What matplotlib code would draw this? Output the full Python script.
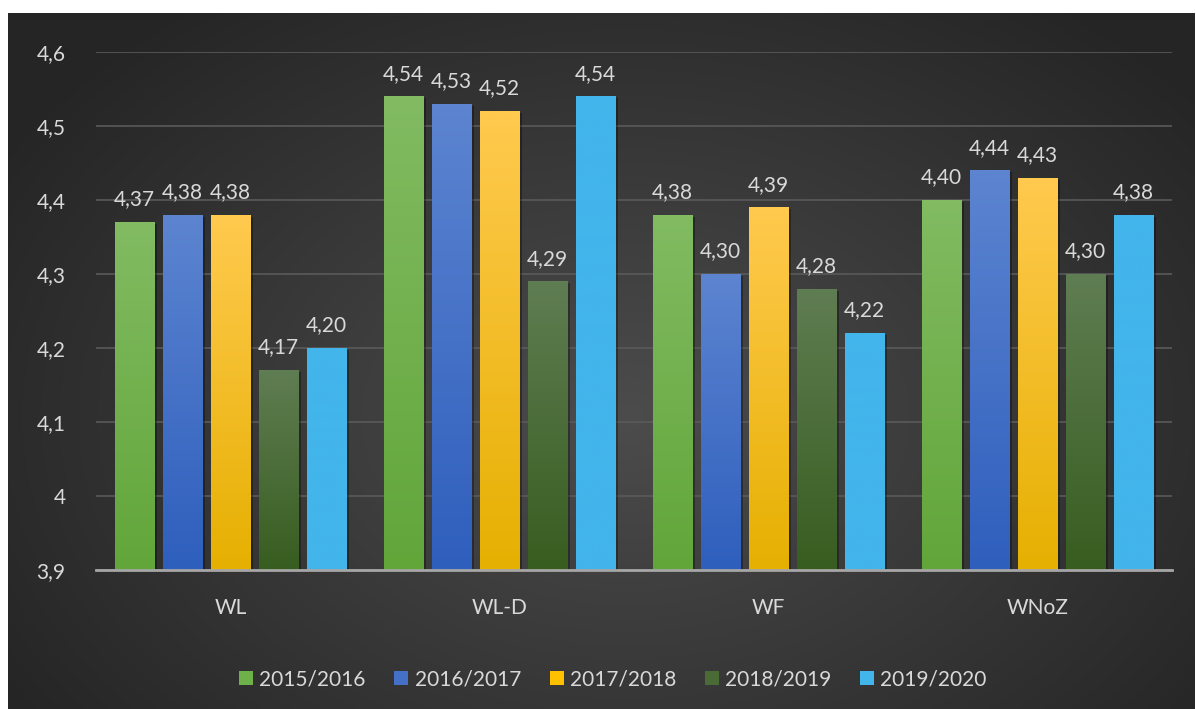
import numpy as np
import matplotlib
matplotlib.use("Agg")
import matplotlib.pyplot as plt
from matplotlib.patches import Patch
import matplotlib.patheffects as pe
from matplotlib.colors import to_rgb

categories = ["WL", "WL-D", "WF", "WNoZ"]
series_names = ["2015/2016", "2016/2017", "2017/2018", "2018/2019", "2019/2020"]
v2015 = [4.37, 4.54, 4.38, 4.40]
v2016 = [4.38, 4.53, 4.30, 4.44]
v2017 = [4.38, 4.52, 4.39, 4.43]
v2018 = [4.17, 4.29, 4.28, 4.30]
v2019 = [4.20, 4.54, 4.22, 4.38]
series_values = [v2015, v2016, v2017, v2018, v2019]
yticks = [3.9, 4.0, 4.1, 4.2, 4.3, 4.4, 4.5, 4.6]
ytick_labels = ["3,9", "4", "4,1", "4,2", "4,3", "4,4", "4,5", "4,6"]

# gradient (top, bottom) colours per series
grad_colors = [("#82bb62", "#62a63a"),
               ("#5c84d0", "#2f5fbd"),
               ("#ffca4e", "#e6b002"),
               ("#5f7d52", "#385d20"),
               ("#42b5eb", "#42b5eb")]
legend_colors = ["#6eb04a", "#4470c8", "#ffc000", "#4a6b35", "#42b5eb"]

FONT = ["Lato", "DejaVu Sans"]
TXT = "#d9d9d9"
plt.rcParams["font.family"] = FONT

W, H = 1196, 709
fig = plt.figure(figsize=(W / 100, H / 100), dpi=100, facecolor="white")

# background with radial gradient
bg = fig.add_axes([8 / W, 0, 1187 / W, 696 / H], zorder=-10)
ny, nx = 350, 600
yy, xx = np.mgrid[0:ny, 0:nx]
u = (xx - nx * 0.52) / (nx * 0.62)
v = (yy - ny * 0.58) / (ny * 0.75)
r = np.clip(np.sqrt(u ** 2 + v ** 2), 0, 1)
c_center = np.array(to_rgb("#4c4c4c"))
c_edge = np.array(to_rgb("#252525"))
img = c_center[None, None, :] * (1 - r[..., None]) + c_edge[None, None, :] * r[..., None]
bg.imshow(img, aspect="auto", extent=[0, 1, 0, 1], origin="upper")
bg.set_axis_off()

ax = fig.add_axes([96 / W, 139 / H, 1076 / W, 518 / H])
ax.set_facecolor("none")
ymin, ymax = 3.9, 4.6
ax.set_ylim(ymin, ymax)
ax.set_xlim(-0.5, len(categories) - 0.5)

pitch = 48 / 269
width = 40 / 269
x = np.arange(len(categories))
for j, (vals, (ctop, cbot)) in enumerate(zip(series_values, grad_colors)):
    offs = x + (j - 2) * pitch
    heights = [v - ymin for v in vals]
    bars = ax.bar(offs, heights, width, bottom=ymin, color=cbot, zorder=2,
                  path_effects=[pe.SimplePatchShadow(offset=(2.0, -1.5), shadow_rgbFace="black", alpha=0.32),
                                pe.Normal()])
    top = np.array(to_rgb(ctop))
    bot = np.array(to_rgb(cbot))
    t = np.linspace(0, 1, 64)[:, None]
    g = top[None, :] * (1 - t) + bot[None, :] * t
    g = g[:, None, :]
    for b, v in zip(bars, vals):
        x0 = b.get_x()
        im = ax.imshow(g, aspect="auto", extent=[x0, x0 + b.get_width(), ymin, v],
                       origin="upper", zorder=2.5, interpolation="bilinear")
        im.set_clip_path(b)
        ax.annotate(f"{v:.2f}".replace(".", ","), (x0 + b.get_width() / 2, v),
                    xytext=(0, 12), textcoords="offset points", ha="center",
                    va="baseline", color=TXT, fontsize=15)

ax.set_xlim(-0.5, len(categories) - 0.5)
ax.set_ylim(ymin, ymax)
ax.set_yticks(yticks)
ax.set_yticklabels(ytick_labels)
ax.set_xticks(x)
ax.set_xticklabels(categories)
ax.tick_params(axis="both", length=0, colors=TXT, labelsize=15)
ax.tick_params(axis="y", pad=22)
ax.tick_params(axis="x", pad=20)
ax.grid(axis="y", color="#5a5a5a", linewidth=1.2, zorder=0)
ax.set_axisbelow(True)
for s in ["top", "right", "left"]:
    ax.spines[s].set_visible(False)
ax.spines["bottom"].set_color("#a6a6a6")
ax.spines["bottom"].set_linewidth(2)
ax.spines["bottom"].set_zorder(3)

handles = [Patch(facecolor=c, edgecolor="none") for c in legend_colors]
fig.legend(handles, series_names, loc="center", bbox_to_anchor=(613 / W, 1 - 679 / H),
           ncol=5, frameon=False, fontsize=15, labelcolor=TXT,
           handlelength=0.67, handleheight=0.67, handletextpad=0.3, columnspacing=1.38)

fig.savefig("out.png", dpi=100, facecolor="white")
